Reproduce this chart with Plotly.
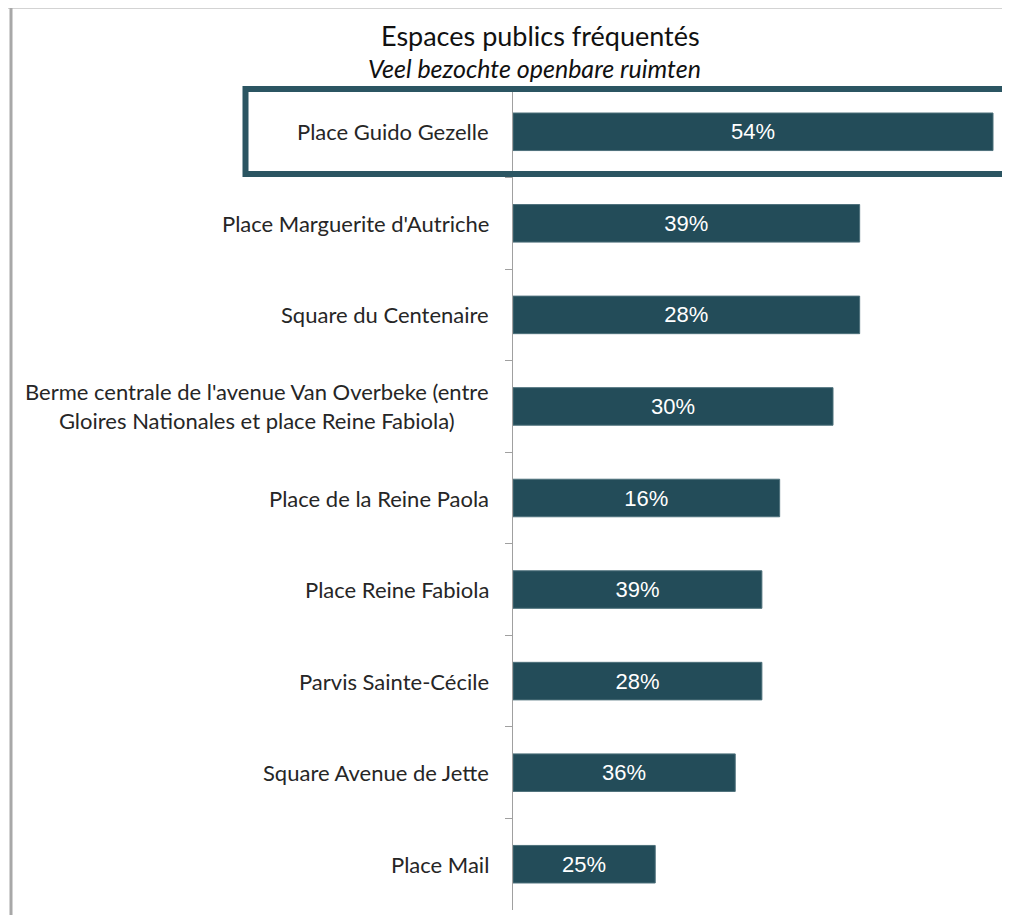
import plotly.graph_objects as go

categories = [
    "Place Guido Gezelle",
    "Place Marguerite d'Autriche",
    "Square du Centenaire",
    "Berme centrale de l'avenue Van Overbeke (entre<br>Gloires Nationales et place Reine Fabiola)",
    "Place de la Reine Paola",
    "Place Reine Fabiola",
    "Parvis Sainte-Cécile",
    "Square Avenue de Jette",
    "Place Mail",
]
bar_values = [54, 39, 39, 36, 30, 28, 28, 25, 16]
bar_labels = ["54%", "39%", "28%", "30%", "16%", "39%", "28%", "36%", "25%"]

title_fr = "Espaces publics fréquentés"
title_nl = "Veel bezochte openbare ruimten"

# page body has an 8px margin; work in screenshot pixels and subtract it
OFF = 8
W, H = 1010 - OFF, 915 - OFF
ML, MR, MT, MB = 513 - OFF, 0, 86 - OFF, 5
PW = W - ML - MR
PH = H - MT - MB

def px(x):
    return (x - OFF - ML) / PW

def py(y):
    return 1 - (y - OFF - MT) / PH

BAR = "#234c59"

fig = go.Figure()
fig.add_trace(go.Bar(
    x=bar_values,
    y=categories,
    orientation="h",
    width=0.41,
    marker=dict(color=BAR, line=dict(color="#4d707b", width=1)),
    text=bar_labels,
    textposition="inside",
    insidetextanchor="middle",
    textangle=0,
    textfont=dict(family="Liberation Sans, Arial", size=22, color="white"),
    hoverinfo="skip",
))

annotations = []
for c in categories:
    annotations.append(dict(
        x=0, xref="paper", y=c, yref="y", text=c, showarrow=False,
        xanchor="right", align="center", xshift=-22,
        font=dict(family="Lato", size=22, color="#262626"),
    ))
annotations.append(dict(
    x=px(540), xref="paper", y=py(36), yref="paper", text=title_fr,
    showarrow=False, xanchor="center", yanchor="middle",
    font=dict(family="Lato", size=27, color="#111111"),
))
annotations.append(dict(
    x=px(534), xref="paper", y=py(68), yref="paper", text="<i>" + title_nl + "</i>",
    showarrow=False, xanchor="center", yanchor="middle",
    font=dict(family="Lato", size=25, color="#111111"),
))

shapes = [
    dict(type="line", xref="paper", yref="paper", x0=px(4), x1=px(1020), y0=py(7), y1=py(7),
         line=dict(color="#a8a8a8", width=3)),
    dict(type="line", xref="paper", yref="paper", x0=px(11), x1=px(11), y0=py(6), y1=py(925),
         line=dict(color="#a8a8a8", width=3)),
    dict(type="rect", xref="paper", yref="paper", x0=px(245.5), x1=px(1025), y0=py(89), y1=py(174),
         line=dict(color="#2b5562", width=6), fillcolor="rgba(0,0,0,0)"),
]

fig.update_layout(
    width=W, height=H,
    margin=dict(l=ML, r=MR, t=MT, b=MB),
    paper_bgcolor="white", plot_bgcolor="white",
    showlegend=False,
    annotations=annotations,
    shapes=shapes,
    xaxis=dict(range=[0, 54 * PW / 480], visible=False, fixedrange=True),
    yaxis=dict(
        type="category", autorange="reversed",
        showticklabels=False,
        ticks="outside", ticklen=7, tickcolor="#a0a0a0", tickwidth=1,
        tickson="boundaries",
        showline=True, linecolor="#a0a0a0", linewidth=1,
        showgrid=False, zeroline=False,
    ),
)

fig.write_html("out.html")
